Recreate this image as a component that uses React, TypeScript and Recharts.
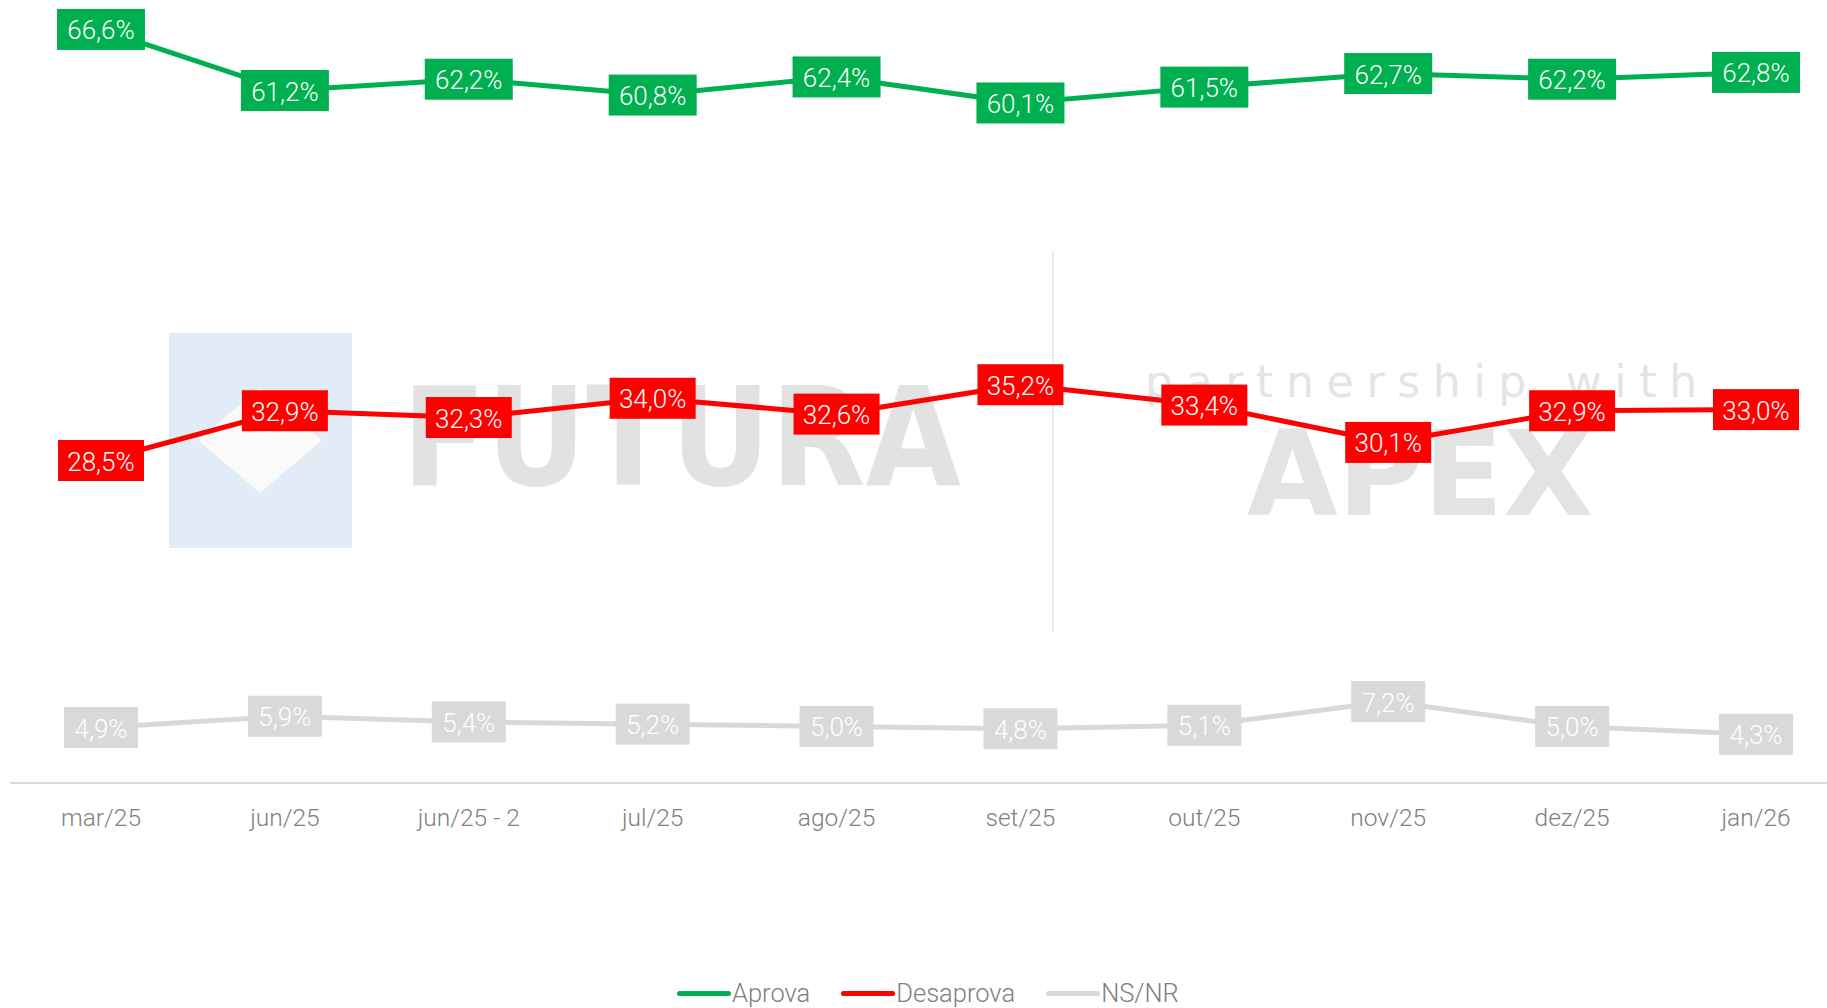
import { LineChart, Line, XAxis, YAxis, LabelList } from 'recharts';

const months = ['mar/25', 'jun/25', 'jun/25 - 2', 'jul/25', 'ago/25', 'set/25', 'out/25', 'nov/25', 'dez/25', 'jan/26'];
const aprova = [66.6, 61.2, 62.2, 60.8, 62.4, 60.1, 61.5, 62.7, 62.2, 62.8];
const desaprova = [28.5, 32.9, 32.3, 34.0, 32.6, 35.2, 33.4, 30.1, 32.9, 33.0];
const nsnr = [4.9, 5.9, 5.4, 5.2, 5.0, 4.8, 5.1, 7.2, 5.0, 4.3];

const series = [
  { key: 'aprova', name: 'Aprova', color: '#00B050', boxW: 88 },
  { key: 'desaprova', name: 'Desaprova', color: '#FF0000', boxW: 86 },
  { key: 'nsnr', name: 'NS/NR', color: '#D9D9D9', boxW: 74 },
];

const data = months.map((m, i) => ({
  month: m,
  aprova: aprova[i],
  desaprova: desaprova[i],
  nsnr: nsnr[i],
}));

const FONT = 'Roboto, Inter, "Noto Sans", sans-serif';

function fmt(v: number) {
  return `${v.toFixed(1).replace('.', ',')}%`;
}

function boxLabel(color: string, w: number) {
  return (props: any) => {
    const { x, y, value } = props;
    if (value == null) return null;
    return (
      <g>
        <rect x={x - w / 2} y={y - 20.5} width={w} height={41} fill={color} />
        <text
          x={x}
          y={y + 1}
          textAnchor="middle"
          dominantBaseline="central"
          fill="#FFFFFF"
          fontSize={26}
          fontWeight={300}
          fontFamily={FONT}
        >
          {fmt(value)}
        </text>
      </g>
    );
  };
}

function MonthTick(props: any) {
  const { x, y, payload } = props;
  return (
    <text
      x={x}
      y={y + 26}
      textAnchor="middle"
      dominantBaseline="central"
      fill="#808080"
      fontSize={24.5}
      fontWeight={300}
      fontFamily={FONT}
    >
      {payload.value}
    </text>
  );
}

export default function App() {
  return (
    <div style={{ position: 'absolute', left: 0, top: 0, width: 1827, height: 1008, background: '#fff', overflow: 'hidden' }}>
      {/* watermarks */}
      <div style={{ position: 'absolute', left: 169, top: 333, width: 183, height: 215, background: '#E2ECF7' }} />
      <svg style={{ position: 'absolute', left: 0, top: 0 }} width={1827} height={1008}>
        <polygon points="198,440 260,388 322,440 260,493" fill="#FAFAFA" />
        <line x1={1053} y1={250} x2={1053} y2={632} stroke="#EDEDED" strokeWidth={2} />
      </svg>
      <div
        style={{
          position: 'absolute', left: 402, top: 358, fontFamily: '"DejaVu Sans Condensed", "DejaVu Sans"', fontWeight: 700,
          fontSize: 137, lineHeight: '160px', color: '#E2E2E2',
        }}
      >
        FUTURA
      </div>
      <div
        style={{
          position: 'absolute', left: 1145, top: 352, fontFamily: '"DejaVu Sans"', fontSize: 44,
          letterSpacing: 12.7, lineHeight: '60px', color: '#E4E4E4',
        }}
      >
        partnership with
      </div>
      <div
        style={{
          position: 'absolute', left: 1247, top: 410, fontFamily: '"DejaVu Sans"', fontWeight: 700, fontSize: 117,
          lineHeight: '130px', color: '#E3E3E3',
        }}
      >
        APEX
      </div>

      <div style={{ position: 'absolute', left: 0, top: 0 }}>
        <LineChart width={1827} height={1008} data={data} margin={{ top: 0, right: 0, left: 10, bottom: 195 }}>
          <XAxis
            dataKey="month"
            axisLine={{ stroke: '#D9D9D9', strokeWidth: 2 }}
            tickLine={false}
            tick={<MonthTick />}
            interval={0}
            height={30}
            padding={{ left: 91, right: 71 }}
          />
          <YAxis hide domain={[0, 69.2]} />
          {series.map((s) => (
            <Line
              key={s.key}
              type="linear"
              dataKey={s.key}
              name={s.name}
              stroke={s.color}
              strokeWidth={5}
              dot={false}
              activeDot={false}
              isAnimationActive={false}
            >
              <LabelList dataKey={s.key} content={boxLabel(s.color, s.boxW)} />
            </Line>
          ))}
        </LineChart>
      </div>

      {/* legend */}
      <div
        style={{
          position: 'absolute', left: 677, top: 978, display: 'flex', alignItems: 'center',
          fontFamily: FONT, fontWeight: 300, fontSize: 25.5, color: '#808080',
        }}
      >
        {series.map((s) => (
          <div key={s.key} style={{ display: 'flex', alignItems: 'center', marginRight: 31 }}>
            <span style={{ display: 'inline-block', width: 54, height: 5, borderRadius: 3, background: s.color }} />
            <span style={{ marginLeft: 1 }}>{s.name}</span>
          </div>
        ))}
      </div>
    </div>
  );
}
